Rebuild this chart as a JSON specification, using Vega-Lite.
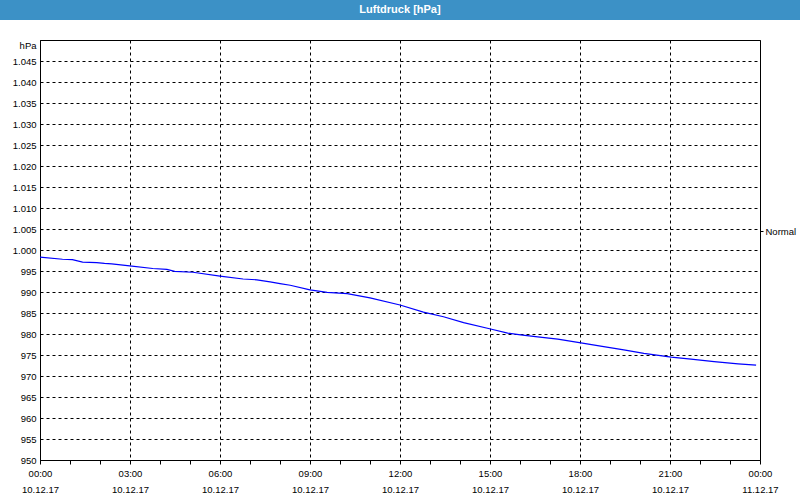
{
  "$schema": "https://vega.github.io/schema/vega-lite/v6.json",
  "background": "white",
  "padding": 0,
  "spacing": 20,
  "bounds": "flush",
  "config": {
    "axis": {"labelFont": "Liberation Sans", "labelFontSize": 9.5, "labelColor": "#000", "titleFont": "Liberation Sans", "titleFontSize": 9.5, "titleColor": "#000", "titleFontWeight": "normal"},
    "view": {"stroke": null}
  },
  "vconcat": [
    {
      "width": 800,
      "height": 20,
      "view": {"fill": "#3c91c6", "stroke": null},
      "data": {"values": [{"t": "Luftdruck [hPa]"}]},
      "mark": {"type": "text", "color": "white", "font": "Liberation Sans", "fontWeight": "bold", "fontSize": 11, "baseline": "middle", "align": "center"},
      "encoding": {"text": {"field": "t"}}
    },
    {
      "spacing": 0,
      "bounds": "flush",
      "hconcat": [
        {
          "width": 40,
          "height": 420,
          "view": {"stroke": null},
          "data": {"values": [{"t": ""}]},
          "mark": {"type": "text"},
          "encoding": {"text": {"field": "t"}}
        },
        {
          "width": 720,
          "height": 420,
          "view": {"stroke": "#000", "strokeWidth": 1},
          "data": {"values": [
            {"h": 0, "p": 998.3}, {"h": 0.75, "p": 997.8}, {"h": 1.08, "p": 997.7}, {"h": 1.42, "p": 997.1},
            {"h": 1.89, "p": 997.0}, {"h": 2.15, "p": 996.8}, {"h": 2.39, "p": 996.7}, {"h": 2.99, "p": 996.2},
            {"h": 3.76, "p": 995.6}, {"h": 4.23, "p": 995.4}, {"h": 4.49, "p": 994.9}, {"h": 5.1, "p": 994.7},
            {"h": 6.0, "p": 993.8}, {"h": 6.77, "p": 993.1}, {"h": 7.23, "p": 992.9}, {"h": 7.67, "p": 992.4},
            {"h": 8.0, "p": 992.0}, {"h": 8.34, "p": 991.6}, {"h": 9.0, "p": 990.5}, {"h": 9.57, "p": 989.9},
            {"h": 10.24, "p": 989.6}, {"h": 11.0, "p": 988.6}, {"h": 12.0, "p": 986.9}, {"h": 12.78, "p": 985.2},
            {"h": 13.45, "p": 984.1}, {"h": 14.12, "p": 982.7}, {"h": 15.02, "p": 981.2}, {"h": 15.59, "p": 980.2},
            {"h": 16.02, "p": 979.8}, {"h": 16.59, "p": 979.3}, {"h": 17.26, "p": 978.8}, {"h": 18.03, "p": 977.9},
            {"h": 18.79, "p": 977.0}, {"h": 19.46, "p": 976.2}, {"h": 20.13, "p": 975.4}, {"h": 21.04, "p": 974.5},
            {"h": 21.7, "p": 974.0}, {"h": 22.47, "p": 973.4}, {"h": 23.27, "p": 972.9}, {"h": 23.87, "p": 972.6}
          ]},
          "layer": [
            {
              "mark": {"type": "line", "color": "#0000ff", "strokeWidth": 1.2},
              "encoding": {
                "x": {
                  "field": "h", "type": "quantitative",
                  "scale": {"domain": [0, 24], "nice": false, "zero": false},
                  "axis": {
                    "title": null,
                    "values": [0,1,2,3,4,5,6,7,8,9,10,11,12,13,14,15,16,17,18,19,20,21,22,23,24],
                    "labelExpr": "datum.value % 3 ? '' : [(datum.value % 24 < 10 ? '0' : '') + (datum.value % 24) + ':00', datum.value == 24 ? '11.12.17' : '10.12.17']",
                    "labelOverlap": false, "labelFlush": false, "labelBound": false,
                    "labelPadding": 4, "labelLineHeight": 16, "labelBaseline": "top",
                    "grid": true, "gridColor": "#000", "gridDash": [3, 3], "gridWidth": 1,
                    "gridOpacity": {"expr": "datum.value % 3 === 0 ? 1 : 0"},
                    "ticks": true, "tickSize": 4, "tickColor": "#000",
                    "domainColor": "#000"
                  }
                },
                "y": {
                  "field": "p", "type": "quantitative",
                  "scale": {"domain": [950, 1050], "nice": false, "zero": false},
                  "axis": {
                    "title": "hPa", "titleAngle": 0, "titleAlign": "right", "titleBaseline": "middle", "titleX": -4, "titleY": 5,
                    "values": [950,955,960,965,970,975,980,985,990,995,1000,1005,1010,1015,1020,1025,1030,1035,1040,1045],
                    "labelExpr": "datum.value >= 1000 ? '1.' + format(datum.value - 1000, '03d') : format(datum.value, 'd')",
                    "labelPadding": 4,
                    "grid": true, "gridColor": "#000", "gridDash": [3, 3], "gridWidth": 1, "gridOpacity": 1,
                    "ticks": false, "domainColor": "#000"
                  }
                }
              }
            },
            {
              "mark": {"type": "rule", "opacity": 0},
              "encoding": {
                "y": {
                  "datum": 1004.5, "type": "quantitative",
                  "scale": {"domain": [950, 1050], "nice": false, "zero": false},
                  "axis": {
                    "orient": "right", "title": null, "values": [1004.5], "labelExpr": "'Normal'",
                    "grid": false, "domain": false, "ticks": true, "tickSize": 3, "tickColor": "#000", "labelPadding": 2
                  }
                }
              }
            }
          ],
          "resolve": {"scale": {"y": "independent"}}
        }
      ]
    }
  ]
}
